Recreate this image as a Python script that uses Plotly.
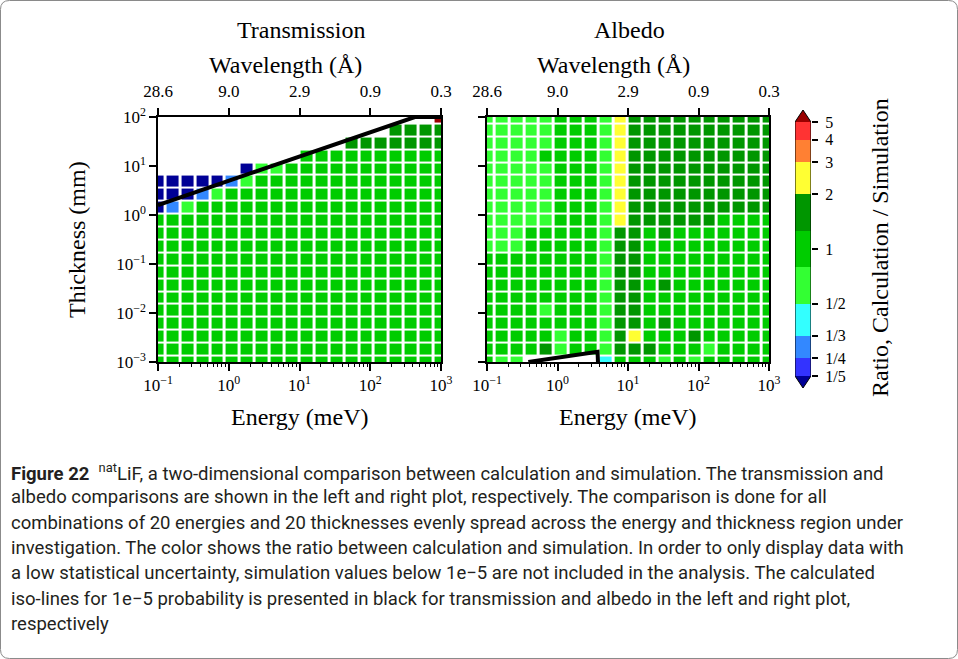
import numpy as np
import plotly.graph_objects as go

# ---------------------------------------------------------------- data
# 20 energies (meV) and 20 thicknesses (mm), evenly spread in log space
energy_mev = [0.1, 0.16238, 0.26367, 0.42813, 0.69519, 1.1288, 1.8330, 2.9764,
              4.8329, 7.8476, 12.743, 20.691, 33.598, 54.556, 88.587, 143.84,
              233.57, 379.27, 615.85, 1000.0]
thickness_mm = [0.001, 0.001833, 0.003360, 0.006158, 0.011288, 0.02069, 0.03793,
                0.06952, 0.1274, 0.2336, 0.4281, 0.7848, 1.4384, 2.6366, 4.8329,
                8.8587, 16.238, 29.764, 54.556, 100.0]

n = None  # no data (simulation below 1e-5)

# ratio calculation / simulation, rows = thickness (thin -> thick), cols = energy
transmission_ratio = [
    [1.0] * 20,
    [1.0] * 20,
    [1.0] * 20,
    [1.0] * 20,
    [1.0] * 20,
    [1.0] * 20,
    [1.0] * 20,
    [1.0] * 20,
    [1.0] * 20,
    [1.0] * 20,
    [1.0] * 20,
    [1.0] * 20,
    [0.15, 0.3, 0.65] + [1.0] * 17,
    [0.15, 0.15, 0.15, 0.3, 0.65] + [1.0] * 15,
    [0.15, 0.15, 0.15, 0.15, 0.15, 0.3, 0.65] + [1.0] * 13,
    [n] * 6 + [0.15, 0.65, 0.65] + [1.0] * 11,
    [n] * 10 + [1.0] * 10,
    [n] * 13 + [1.6] * 7,
    [n] * 16 + [1.6] * 4,
    [n] * 19 + [6.0],
]

albedo_ratio = [
    [1.0, 0.65, 0.65, n, n, n, n, n, 0.4, 1.0, 1.0, 1.0, 0.65, 1.0, 0.65, 1.0, 1.0, 1.0, 1.0, 1.0],
    [1.0, 1.0, 1.0, 1.0, 1.6, 0.65, 1.0, 1.0, 0.65, 1.6, 1.6, 1.6, 1.0, 1.0, 1.0, 0.65, 1.0, 1.0, 1.0, 1.0],
    [1.0, 1.0, 1.0, 1.0, 1.0, 0.65, 1.0, 1.0, 0.65, 1.6, 2.5, 1.0, 1.0, 1.0, 1.6, 1.0, 1.0, 1.0, 1.0, 1.0],
    [1.0, 1.0, 1.0, 1.0, 1.0, 1.0, 1.0, 1.0, 0.65, 1.6, 1.6, 1.0, 1.6, 1.0, 1.0, 1.0, 1.0, 1.0, 1.0, 1.0],
    [1.0, 1.0, 1.0, 1.0, 0.65, 1.0, 1.0, 1.0, 0.65, 1.6, 1.6, 1.0, 1.0, 1.0, 1.0, 1.0, 1.0, 1.0, 1.0, 1.0],
    [1.0, 1.0, 1.0, 1.0, 1.0, 1.0, 1.0, 1.0, 0.65, 1.6, 1.6, 1.0, 1.0, 1.0, 1.0, 1.0, 1.0, 1.0, 1.0, 1.0],
    [1.0, 1.0, 1.0, 1.0, 1.0, 1.0, 1.0, 1.0, 0.65, 1.6, 1.6, 1.0, 1.6, 1.0, 1.0, 1.0, 1.0, 1.0, 1.0, 1.0],
    [1.0, 1.0, 1.0, 1.0, 1.0, 1.0, 1.0, 1.0, 0.65, 1.6, 1.6, 1.0, 1.0, 1.0, 1.0, 1.0, 1.0, 1.0, 1.0, 1.0],
    [1.0, 1.0, 1.0, 1.0, 1.0, 1.0, 1.0, 1.0, 0.65, 1.6, 1.6, 1.0, 1.0, 1.0, 1.0, 1.0, 1.0, 1.0, 1.0, 1.0],
    [0.65, 0.65, 0.65, 1.0, 1.0, 1.0, 1.0, 1.0, 0.65, 1.6, 1.6, 1.0, 1.0, 1.0, 1.0, 1.0, 1.0, 1.0, 1.0, 1.0],
    [0.65, 0.65, 0.65, 1.0, 1.0, 1.0, 1.0, 1.0, 0.65, 1.6, 1.6, 1.0, 1.6, 1.0, 1.0, 1.0, 1.0, 1.0, 1.0, 1.0],
    [0.65, 0.65, 0.65, 0.65, 0.65, 1.0, 1.0, 1.0, 0.65, 2.5, 1.6, 1.6, 1.6, 1.6, 1.6, 1.6, 1.0, 1.0, 1.0, 1.0],
    [0.65, 0.65, 0.65, 0.65, 0.65, 1.0, 1.0, 1.0, 0.65, 2.5] + [1.6] * 10,
    [0.65, 0.65, 0.65, 0.65, 0.65, 1.0, 1.0, 1.0, 0.65, 2.5] + [1.6] * 10,
    [0.65, 0.65, 0.65, 0.65, 0.65, 1.0, 1.0, 1.0, 0.65, 2.5] + [1.6] * 10,
    [0.65, 0.65, 0.65, 0.65, 0.65, 1.0, 1.0, 1.0, 0.65, 2.5] + [1.6] * 10,
    [0.65, 0.65, 0.65, 0.65, 1.0, 1.0, 1.0, 1.0, 0.65, 2.5] + [1.6] * 10,
    [0.65, 0.65, 0.65, 0.65, 0.65, 1.0, 1.0, 1.0, 0.65, 2.5] + [1.6] * 10,
    [0.65, 0.65, 0.65, 0.65, 0.65, 1.0, 1.0, 1.0, 0.65, 2.5] + [1.6] * 10,
    [0.65, 0.65, 0.65, 0.65, 0.65, 1.0, 1.0, 1.0, 0.65, 2.5] + [1.6] * 10,
]

# calculated 1e-5 iso-lines
trans_iso_energy = [0.1, 1.0, 10.0, 100.0, 427.0, 1000.0]
trans_iso_thickness = [1.6, 5.0, 15.6, 48.9, 100.0, 100.0]
albedo_iso_energy = [0.386, 3.7, 3.75]
albedo_iso_thickness = [0.001, 0.00162, 0.001]

# colour levels of the ratio
level_bounds = [1 / 5, 1 / 4, 1 / 3, 1 / 2, 0.8, 1.25, 2, 3, 4, 5]
level_colors = ["#3333ff", "#3388ff", "#33ffff", "#33ff33", "#00cc00",
                "#009600", "#ffff33", "#ff8033", "#ff3333"]
under_color = "#000096"
over_color = "#990000"
cbar_ticks = [1 / 5, 1 / 4, 1 / 3, 1 / 2, 1, 2, 3, 4, 5]
cbar_ticktext = ["1/5", "1/4", "1/3", "1/2", "1", "2", "3", "4", "5"]

energy_ticks = [0.1, 1, 10, 100, 1000]
energy_ticktext = ["10<sup>−1</sup>", "10<sup>0</sup>", "10<sup>1</sup>",
                   "10<sup>2</sup>", "10<sup>3</sup>"]
wavelength_ticktext = ["28.6", "9.0", "2.9", "0.9", "0.3"]
thickness_ticks = [1e-3, 1e-2, 1e-1, 1, 10, 100]
thickness_ticktext = ["10<sup>−3</sup>", "10<sup>−2</sup>", "10<sup>−1</sup>",
                      "10<sup>0</sup>", "10<sup>1</sup>", "10<sup>2</sup>"]

caption_lines = [
    "<b>Figure 22</b>  <sup>nat</sup>LiF, a two-dimensional comparison between calculation and simulation. The transmission and",
    "albedo comparisons are shown in the left and right plot, respectively. The comparison is done for all",
    "combinations of 20 energies and 20 thicknesses evenly spread across the energy and thickness region under",
    "investigation. The color shows the ratio between calculation and simulation. In order to only display data with",
    "a low statistical uncertainty, simulation values below 1e−5 are not included in the analysis. The calculated",
    "iso-lines for 1e−5 probability is presented in black for transmission and albedo in the left and right plot,",
    "respectively",
]

# ---------------------------------------------------------------- helpers
W, H = 958, 659
SERIF = "Liberation Serif"
LABEL_SIZE = 24
TICK_SIZE = 17


def lg(v):
    return None if v is None else float(np.log10(v))


def lg_grid(rows):
    return [[lg(v) for v in row] for row in rows]


def px_x(p):
    return p / W


def px_y(p):
    return 1 - p / H


# discrete colour scale in log10(ratio) space, with under / over bands
zmin, zmax = -0.9, 0.9
edges = [zmin] + [lg(b) for b in level_bounds] + [zmax]
band_cols = [under_color] + level_colors + [over_color]
colorscale = []
for k, c in enumerate(band_cols):
    a = (edges[k] - zmin) / (zmax - zmin)
    b = (edges[k + 1] - zmin) / (zmax - zmin)
    colorscale += [[a, c], [b, c]]

x_log = [lg(e) for e in energy_mev]
y_log = [lg(t) for t in thickness_mm]

fig = go.Figure()

for zgrid, xa, ya in [(transmission_ratio, "x", "y"), (albedo_ratio, "x2", "y2")]:
    fig.add_trace(go.Heatmap(
        x=x_log, y=y_log, z=lg_grid(zgrid), coloraxis="coloraxis",
        xgap=3, ygap=2, xaxis=xa, yaxis=ya, hoverinfo="skip"))

fig.add_trace(go.Scatter(
    x=[lg(e) for e in trans_iso_energy], y=[lg(t) for t in trans_iso_thickness],
    mode="lines", line=dict(color="black", width=4), xaxis="x", yaxis="y",
    hoverinfo="skip"))
fig.add_trace(go.Scatter(
    x=[lg(e) for e in albedo_iso_energy], y=[lg(t) for t in albedo_iso_thickness],
    mode="lines", line=dict(color="black", width=4), xaxis="x2", yaxis="y2",
    hoverinfo="skip"))

# placeholders so the wavelength axes are drawn
for xa, ya in [("x3", "y"), ("x4", "y2")]:
    fig.add_trace(go.Scatter(x=[-1, 3], y=[-3, -3], mode="markers",
                             marker=dict(opacity=0), xaxis=xa, yaxis=ya,
                             hoverinfo="skip"))

# colour bar drawn on its own axes
lo, hi = lg(level_bounds[0]), lg(level_bounds[-1])
tip = 0.765
fig.add_trace(go.Heatmap(
    x=[0, 1], y=[lg(b) for b in level_bounds],
    z=[[(lg(level_bounds[k]) + lg(level_bounds[k + 1])) / 2] for k in range(len(level_colors))],
    coloraxis="coloraxis", xaxis="x5", yaxis="y5", hoverinfo="skip"))
fig.add_trace(go.Scatter(x=[0, 1, 0.5, 0], y=[lo, lo, -tip, lo], fill="toself",
                         fillcolor=under_color, mode="none", xaxis="x5", yaxis="y5",
                         hoverinfo="skip"))
fig.add_trace(go.Scatter(x=[0, 1, 0.5, 0], y=[hi, hi, tip, hi], fill="toself",
                         fillcolor=over_color, mode="none", xaxis="x5", yaxis="y5",
                         hoverinfo="skip"))
fig.add_trace(go.Scatter(x=[0.5, 1, 1, 0.5, 0, 0, 0.5], y=[-tip, lo, hi, tip, hi, lo, -tip],
                         mode="lines", line=dict(color="black", width=1),
                         xaxis="x5", yaxis="y5", hoverinfo="skip", cliponaxis=False))

minor_x = [float(np.log10(k * 10.0 ** p)) for p in range(-1, 3) for k in range(2, 10)]

axis_common = dict(showline=True, linecolor="black", linewidth=1.5, mirror=True,
                   showgrid=False, zeroline=False, ticks="outside", ticklen=7,
                   tickwidth=1.5, tickcolor="black",
                   tickfont=dict(family=SERIF, size=TICK_SIZE, color="black"))

left_dom = [px_x(158), px_x(441)]
right_dom = [px_x(487), px_x(769)]
y_dom = [px_y(362), px_y(117)]

bottom_x = dict(axis_common, range=[-1, 3], tickmode="array",
                tickvals=[lg(e) for e in energy_ticks], ticktext=energy_ticktext,
                minor=dict(tickmode="array", tickvals=minor_x, ticks="outside",
                           ticklen=3.5, tickwidth=1.2, tickcolor="black"))
top_x = dict(axis_common, range=[-1, 3], tickmode="array", side="top",
             tickvals=[lg(e) for e in energy_ticks], ticktext=wavelength_ticktext,
             ticklabelstandoff=4)
left_y = dict(axis_common, range=[-3, 2], tickmode="array",
              tickvals=[lg(t) for t in thickness_ticks], ticktext=thickness_ticktext)

cb_range = 0.78
cb_ppd = 181.7  # pixels per decade of ratio
cb_top = 249 - cb_range * cb_ppd
cb_bot = 249 + cb_range * cb_ppd

fig.update_layout(
    width=W, height=H, margin=dict(l=0, r=0, t=0, b=0, autoexpand=False),
    paper_bgcolor="white", plot_bgcolor="white", showlegend=False,
    coloraxis=dict(colorscale=colorscale, cmin=zmin, cmax=zmax, showscale=False),
    xaxis=dict(bottom_x, domain=left_dom, anchor="y"),
    yaxis=dict(left_y, domain=y_dom, anchor="x"),
    xaxis2=dict(bottom_x, domain=right_dom, anchor="y2"),
    yaxis2=dict(left_y, domain=y_dom, anchor="x2", showticklabels=False),
    xaxis3=dict(top_x, overlaying="x", anchor="y"),
    xaxis4=dict(top_x, overlaying="x2", anchor="y2"),
    xaxis5=dict(domain=[px_x(795), px_x(811)], range=[0, 1], visible=False,
                anchor="y5", fixedrange=True),
    yaxis5=dict(domain=[px_y(cb_bot), px_y(cb_top)], range=[-cb_range, cb_range],
                anchor="x5", side="right", showline=False, showgrid=False,
                zeroline=False, ticks="outside", ticklen=6, tickwidth=1.5,
                tickcolor="black", tickmode="array", ticklabelstandoff=4,
                tickvals=[lg(v) for v in cbar_ticks], ticktext=cbar_ticktext,
                tickfont=dict(family=SERIF, size=16, color="black")),
)

label_font = dict(family=SERIF, size=LABEL_SIZE, color="black")
annotations = [
    dict(text="Transmission", x=px_x(301), y=px_y(30)),
    dict(text="Albedo", x=px_x(629), y=px_y(30)),
    dict(text="Wavelength (Å)", x=px_x(285), y=px_y(65)),
    dict(text="Wavelength (Å)", x=px_x(613), y=px_y(65)),
    dict(text="Energy (meV)", x=px_x(299.5), y=px_y(417)),
    dict(text="Energy (meV)", x=px_x(628), y=px_y(417)),
    dict(text="Thickness (mm)", x=px_x(77), y=px_y(240), textangle=-90),
    dict(text="Ratio, Calculation / Simulation", x=px_x(880), y=px_y(248), textangle=-90),
]
for a in annotations:
    fig.add_annotation(dict(a, xref="paper", yref="paper", showarrow=False,
                            xanchor="center", yanchor="middle", font=label_font))

caption_font = dict(family="Roboto", size=18.5, color="#231f20")
for i, line in enumerate(caption_lines):
    fig.add_annotation(text=line, xref="paper", yref="paper", x=px_x(9),
                       y=px_y(472 + 25.3 * i), xanchor="left", yanchor="middle",
                       showarrow=False, font=caption_font, align="left")

# rounded frame around the whole figure
r = 9
x0, x1, y0, y1 = 0.5, W - 0.5, 0.5, H - 0.5


def P(x, y):
    return f"{px_x(x):.5f},{px_y(y):.5f}"


frame = (f"M {P(x0 + r, y0)} L {P(x1 - r, y0)} Q {P(x1, y0)} {P(x1, y0 + r)} "
         f"L {P(x1, y1 - r)} Q {P(x1, y1)} {P(x1 - r, y1)} "
         f"L {P(x0 + r, y1)} Q {P(x0, y1)} {P(x0, y1 - r)} "
         f"L {P(x0, y0 + r)} Q {P(x0, y0)} {P(x0 + r, y0)} Z")
fig.add_shape(type="path", path=frame, xref="paper", yref="paper",
              line=dict(color="#8a8a8a", width=1))

fig.write_html("out.html")
